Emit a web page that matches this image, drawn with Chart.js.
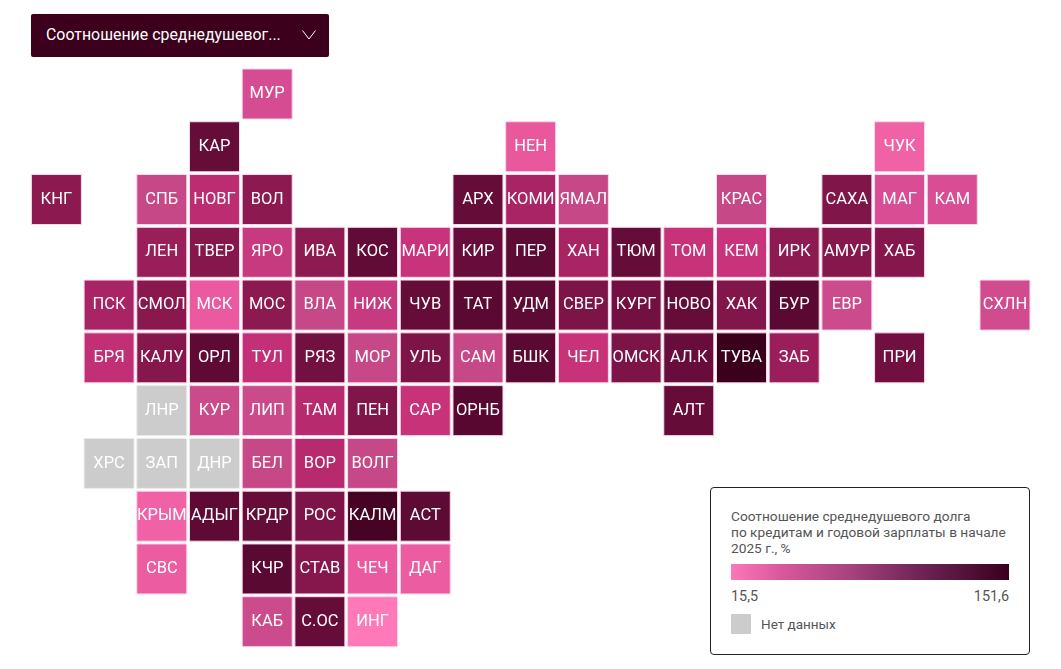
<!doctype html>
<html>

<head>
    <meta charset="utf-8">
    <title>Долговая нагрузка</title>
    <script src="https://cdn.jsdelivr.net/npm/chart.js"></script>
    <style>
        body { margin: 0; background: #fff; font-family: Roboto, sans-serif; }
        #wrap { position: relative; width: 1061px; height: 669px; overflow: hidden; }
        #tileMap { display: block; }
        #picker { position: absolute; left: 31px; top: 14px; width: 298px; height: 43px; background: #3c001c; border-radius: 2px; color: #fff; font-size: 15.9px; line-height: 41px; text-indent: 15px; }
        #picker svg { position: absolute; left: 270px; top: 15px; }
        #legend { position: absolute; left: 710px; top: 487px; width: 318px; height: 166px; border: 1px solid #222; border-radius: 4px; background: #fff; color: #555; }
        #legend .title { position: absolute; left: 20px; top: 20px; width: 295px; font-size: 13.7px; line-height: 16px; }
        #legend .bar { position: absolute; left: 20px; top: 76px; width: 278px; height: 16px; background: linear-gradient(to right, #fb78b8, #d9589c 18%, #a8447d 42%, #6f2456 68%, #3a001c); }
        #legend .min, #legend .max { position: absolute; top: 100px; font-size: 14.4px; }
        #legend .min { left: 20px; }
        #legend .max { right: 20px; }
        #legend .swatch { position: absolute; left: 20px; top: 126px; width: 20px; height: 20px; background: #ccc; }
        #legend .none { position: absolute; left: 50px; top: 128px; font-size: 13.5px; }
    </style>
</head>

<body>
    <div id="wrap">
        <canvas id="tileMap" width="1061" height="669"></canvas>
        <div id="picker">Соотношение среднедушевог...
            <svg width="16" height="12" viewBox="0 0 16 12"><path d="M1.5 1.5 L8 10 L14.5 1.5" fill="none" stroke="#fff" stroke-width="1"/></svg>
        </div>
        <div id="legend">
            <div class="title">Соотношение среднедушевого долга<br>по кредитам и годовой зарплаты в начале<br>2025 г., %</div>
            <div class="bar"></div>
            <div class="min">15,5</div>
            <div class="max">151,6</div>
            <div class="swatch"></div>
            <div class="none">Нет данных</div>
        </div>
    </div>

    <script>
        const regions = [
            'МУР',
            'КАР', 'НЕН', 'ЧУК',
            'КНГ', 'СПБ', 'НОВГ', 'ВОЛ', 'АРХ', 'КОМИ', 'ЯМАЛ', 'КРАС', 'САХА', 'МАГ', 'КАМ',
            'ЛЕН', 'ТВЕР', 'ЯРО', 'ИВА', 'КОС', 'МАРИ', 'КИР', 'ПЕР', 'ХАН', 'ТЮМ', 'ТОМ', 'КЕМ', 'ИРК', 'АМУР', 'ХАБ',
            'ПСК', 'СМОЛ', 'МСК', 'МОС', 'ВЛА', 'НИЖ', 'ЧУВ', 'ТАТ', 'УДМ', 'СВЕР', 'КУРГ', 'НОВО', 'ХАК', 'БУР', 'ЕВР', 'СХЛН',
            'БРЯ', 'КАЛУ', 'ОРЛ', 'ТУЛ', 'РЯЗ', 'МОР', 'УЛЬ', 'САМ', 'БШК', 'ЧЕЛ', 'ОМСК', 'АЛ.К', 'ТУВА', 'ЗАБ', 'ПРИ',
            'ЛНР', 'КУР', 'ЛИП', 'ТАМ', 'ПЕН', 'САР', 'ОРНБ', 'АЛТ',
            'ХРС', 'ЗАП', 'ДНР', 'БЕЛ', 'ВОР', 'ВОЛГ',
            'КРЫМ', 'АДЫГ', 'КРДР', 'РОС', 'КАЛМ', 'АСТ',
            'СВС', 'КЧР', 'СТАВ', 'ЧЕЧ', 'ДАГ',
            'КАБ', 'С.ОС', 'ИНГ'
        ];
        const gridCols = [
            4,
            3, 9, 16,
            0, 2, 3, 4, 8, 9, 10, 13, 15, 16, 17,
            2, 3, 4, 5, 6, 7, 8, 9, 10, 11, 12, 13, 14, 15, 16,
            1, 2, 3, 4, 5, 6, 7, 8, 9, 10, 11, 12, 13, 14, 15, 18,
            1, 2, 3, 4, 5, 6, 7, 8, 9, 10, 11, 12, 13, 14, 16,
            2, 3, 4, 5, 6, 7, 8, 12,
            1, 2, 3, 4, 5, 6,
            2, 3, 4, 5, 6, 7,
            2, 4, 5, 6, 7,
            4, 5, 6
        ];
        const gridRows = [
            0,
            1, 1, 1,
            2, 2, 2, 2, 2, 2, 2, 2, 2, 2, 2,
            3, 3, 3, 3, 3, 3, 3, 3, 3, 3, 3, 3, 3, 3, 3,
            4, 4, 4, 4, 4, 4, 4, 4, 4, 4, 4, 4, 4, 4, 4, 4,
            5, 5, 5, 5, 5, 5, 5, 5, 5, 5, 5, 5, 5, 5, 5,
            6, 6, 6, 6, 6, 6, 6, 6,
            7, 7, 7, 7, 7, 7,
            8, 8, 8, 8, 8, 8,
            9, 9, 9, 9, 9,
            10, 10, 10
        ];
        // оценка по цвету плиток, null = нет данных
        const debtRatio = [
            43,
            113, 35, 29,
            86, 50, 65, 86, 113, 73, 50, 50, 94, 42, 42,
            79, 90, 54, 84, 116, 56, 111, 119, 73, 113, 57, 56, 84, 90, 90,
            73, 88, 33, 86, 50, 54, 113, 122, 119, 97, 104, 113, 93, 122, 47, 45,
            61, 90, 118, 59, 104, 50, 97, 50, 122, 57, 97, 111, 151.6, 79, 105,
            null, 48, 48, 67, 94, 57, 124, 113,
            null, null, null, 50, 67, 50,
            29, 118, 113, 97, 141, 119,
            32, 122, 90, 33, 32,
            47, 113, 15.5
        ];

        const minRatio = 15.5;
        const maxRatio = 151.6;
        const noDataColor = '#cccccc';
        const colorStops = [
            [0, [255, 120, 184]],
            [0.15, [232, 85, 156]],
            [0.2, [214, 76, 146]],
            [0.25, [198, 74, 136]],
            [0.3, [200, 50, 122]],
            [0.38, [184, 42, 110]],
            [0.5, [143, 26, 82]],
            [0.75, [95, 10, 53]],
            [1, [58, 0, 28]]
        ];

        function ratioColor(value) {
            if (value === null) return noDataColor;
            const t = (value - minRatio) / (maxRatio - minRatio);
            for (let i = 1; i < colorStops.length; i++) {
                if (t <= colorStops[i][0]) {
                    const a = colorStops[i - 1], b = colorStops[i];
                    const k = (t - a[0]) / (b[0] - a[0]);
                    const rgb = a[1].map((c, j) => Math.round(c + (b[1][j] - c) * k));
                    return 'rgb(' + rgb.join(',') + ')';
                }
            }
            return 'rgb(58,0,28)';
        }

        const tileLabels = {
            id: 'tileLabels',
            afterDatasetsDraw(chart) {
                const ctx = chart.ctx;
                ctx.save();
                ctx.font = '16.5px Roboto';
                ctx.fillStyle = '#fff';
                ctx.textAlign = 'center';
                ctx.textBaseline = 'middle';
                chart.getDatasetMeta(0).data.forEach((pt, i) => {
                    ctx.fillText(regions[i], pt.x, pt.y);
                });
                ctx.restore();
            }
        };

        new Chart(document.getElementById('tileMap').getContext('2d'), {
            type: 'scatter',
            data: {
                datasets: [{
                    label: 'Соотношение среднедушевого долга',
                    data: regions.map((r, i) => ({ x: gridCols[i], y: gridRows[i] })),
                    pointStyle: 'rect',
                    pointRadius: 35.36,
                    pointBorderWidth: 1,
                    pointBorderColor: debtRatio.map(v => v === null ? '#ececec' : '#fbd9ec'),
                    pointBackgroundColor: debtRatio.map(ratioColor)
                }]
            },
            options: {
                responsive: false,
                animation: false,
                layout: { padding: 0, autoPadding: false },
                plugins: { legend: { display: false }, tooltip: { enabled: false } },
                scales: {
                    x: { display: false, min: -1.07, max: 19.063 },
                    y: { display: false, reverse: true, min: -1.781, max: 10.896 }
                }
            },
            plugins: [tileLabels]
        });
    </script>
</body>

</html>
